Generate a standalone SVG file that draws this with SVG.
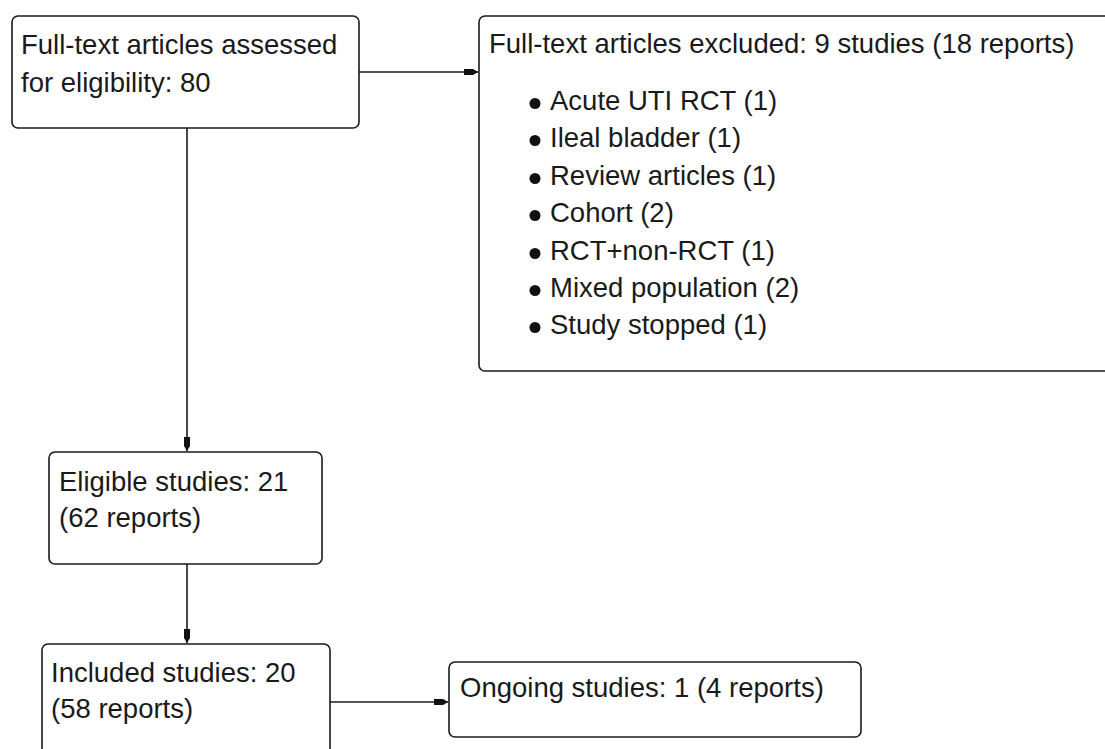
<svg xmlns="http://www.w3.org/2000/svg" width="1105" height="749" viewBox="0 0 1105 749">
  <style>
    .box { fill: #ffffff; stroke: #1a1a1a; stroke-width: 1.6; }
    .lbl { font-family: "Liberation Sans", Arial, sans-serif; font-size: 27.5px; fill: #1a1a1a; }
    .conn { stroke: #1a1a1a; stroke-width: 1.6; fill: none; marker-end: url(#arr); }
    .dot { fill: #111111; }
  </style>
  <defs>
    <marker id="arr" markerUnits="userSpaceOnUse" markerWidth="15" markerHeight="8" refX="14" refY="4" orient="auto">
      <path d="M0,1 L9,1 L14,4 L9,7 L0,7 Z" fill="#111111"/>
    </marker>
  </defs>
  <rect width="1105" height="749" fill="#ffffff"/>

  <g id="connectors">
    <line class="conn" x1="359" y1="72" x2="478" y2="72"/>
    <line class="conn" x1="187" y1="128" x2="187" y2="451"/>
    <line class="conn" x1="187" y1="564" x2="187" y2="643"/>
    <line class="conn" x1="330" y1="702" x2="448" y2="702"/>
  </g>

  <g id="assessed">
    <rect class="box" x="12" y="16" width="347" height="112" rx="6"/>
    <text class="lbl" x="21" y="54">Full-text articles assessed</text>
    <text class="lbl" x="21" y="92">for eligibility: 80</text>
  </g>

  <g id="excluded">
    <rect class="box" x="479" y="16" width="640" height="355" rx="6"/>
    <text class="lbl" x="489" y="53">Full-text articles excluded: 9 studies (18 reports)</text>
    <circle class="dot" cx="535" cy="103.5" r="5.5"/>
    <text class="lbl" x="550" y="110">Acute UTI RCT (1)</text>
    <circle class="dot" cx="535" cy="140.5" r="5.5"/>
    <text class="lbl" x="550" y="147">Ileal bladder (1)</text>
    <circle class="dot" cx="535" cy="178.5" r="5.5"/>
    <text class="lbl" x="550" y="185">Review articles (1)</text>
    <circle class="dot" cx="535" cy="215.5" r="5.5"/>
    <text class="lbl" x="550" y="222">Cohort (2)</text>
    <circle class="dot" cx="535" cy="253.5" r="5.5"/>
    <text class="lbl" x="550" y="260">RCT+non-RCT (1)</text>
    <circle class="dot" cx="535" cy="290.5" r="5.5"/>
    <text class="lbl" x="550" y="297">Mixed population (2)</text>
    <circle class="dot" cx="535" cy="327.5" r="5.5"/>
    <text class="lbl" x="550" y="334">Study stopped (1)</text>
  </g>

  <g id="eligible">
    <rect class="box" x="49" y="452" width="273" height="112" rx="6"/>
    <text class="lbl" x="59" y="491">Eligible studies: 21</text>
    <text class="lbl" x="59" y="527">(62 reports)</text>
  </g>

  <g id="included">
    <rect class="box" x="42" y="644" width="288" height="130" rx="6"/>
    <text class="lbl" x="51" y="682">Included studies: 20</text>
    <text class="lbl" x="51" y="718">(58 reports)</text>
  </g>

  <g id="ongoing">
    <rect class="box" x="449" y="662" width="412" height="75" rx="6"/>
    <text class="lbl" x="460" y="697">Ongoing studies: 1 (4 reports)</text>
  </g>
</svg>
